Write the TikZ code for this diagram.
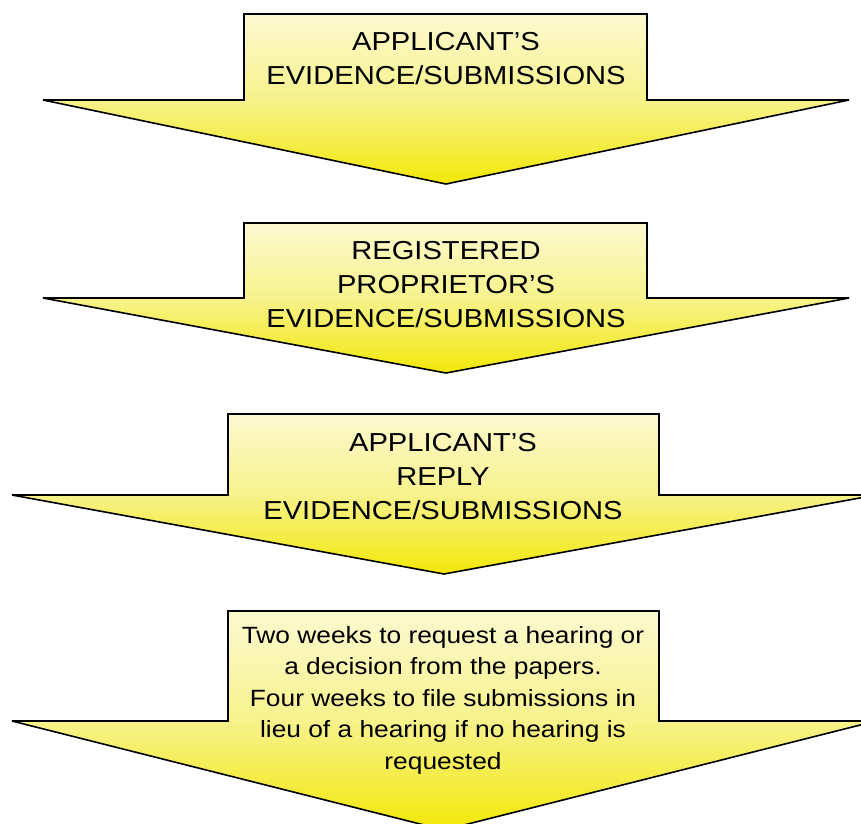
\documentclass[tikz,border=0pt]{standalone}
\usepackage{fontspec}
\setmainfont{Liberation Sans}[FakeStretch=1.12]
\definecolor{paleyel}{RGB}{252,249,208}
\definecolor{midyel}{RGB}{247,242,140}
\definecolor{deepyel}{RGB}{242,232,8}
\begin{document}
\begin{tikzpicture}[x=1pt,y=-1pt,
  arrowshape/.style={draw=black,line width=1.6pt,line join=miter,miter limit=2,
    top color=paleyel,bottom color=deepyel,middle color=midyel},
  biglbl/.style={align=center,inner sep=0pt,text=black,
    font=\fontsize{26}{34}\selectfont},
  smalllbl/.style={align=center,inner sep=0pt,text=black,
    font=\fontsize{23.5}{31.5}\selectfont}]
\useasboundingbox (0,0) rectangle (861,823);
\clip (0,0) rectangle (861,823);
% arrow 1
\path[arrowshape] (244,14) -- (647,14) -- (647,100) -- (849,100) -- (446,184)
  -- (43,100) -- (244,100) -- cycle;
% arrow 2
\path[arrowshape] (244,223) -- (647,223) -- (647,298) -- (849,298) -- (446,373)
  -- (43,298) -- (244,298) -- cycle;
% arrow 3
\path[arrowshape] (228,414) -- (659,414) -- (659,495) -- (876,495) -- (444,574)
  -- (12,495) -- (228,495) -- cycle;
% arrow 4
\path[arrowshape] (228,611) -- (659,611) -- (659,721) -- (876,721) -- (444,830)
  -- (12,721) -- (228,721) -- cycle;
\node[biglbl] (t1) at (446,59) {APPLICANT’S\\EVIDENCE/SUBMISSIONS};
\node[biglbl] (t2) at (446,285) {REGISTERED\\PROPRIETOR’S\\EVIDENCE/SUBMISSIONS};
\node[biglbl] (t3) at (443,477) {APPLICANT’S\\REPLY\\EVIDENCE/SUBMISSIONS};
\node[smalllbl] (t4) at (443,700) {Two weeks to request a hearing or\\a decision from the papers.\\Four weeks to file submissions in\\lieu of a hearing if no hearing is\\requested};
\end{tikzpicture}
\end{document}
